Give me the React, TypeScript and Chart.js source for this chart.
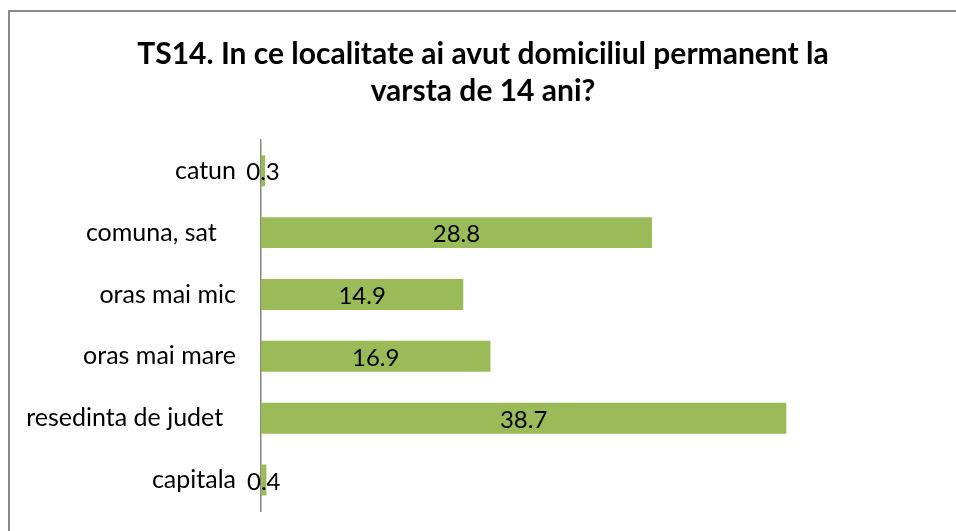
import React, { useEffect, useRef } from "react";
import { Chart, registerables } from "chart.js";

Chart.register(...registerables);

const categories = ["catun", "comuna, sat   ", "oras mai mic", "oras mai mare", "resedinta de judet  ", "capitala"];
const values = [0.3, 28.8, 14.9, 16.9, 38.7, 0.4];
const titleLines = ["TS14. In ce localitate ai avut domiciliul permanent la", "varsta de 14 ani?"];

const FONT = "Lato, 'Open Sans', sans-serif";

const valueLabels = {
  id: "valueLabels",
  afterDatasetsDraw(chart: any) {
    const ctx = chart.ctx;
    const meta = chart.getDatasetMeta(0);
    ctx.save();
    ctx.font = `24px ${FONT}`;
    ctx.fillStyle = "#000";
    ctx.textAlign = "center";
    ctx.textBaseline = "middle";
    meta.data.forEach((bar: any, i: number) => {
      const cx = (bar.x + bar.base) / 2;
      ctx.fillText(String(values[i]), cx, bar.y + 2);
    });
    ctx.restore();
  },
};

export default function App() {
  const ref = useRef<HTMLCanvasElement | null>(null);
  useEffect(() => {
    if (!ref.current) return;
    const chart = new Chart(ref.current, {
      type: "bar",
      data: {
        labels: categories,
        datasets: [
          {
            data: values,
            backgroundColor: "#9BBB59",
            borderWidth: 0,
            barPercentage: 0.5,
            categoryPercentage: 1,
          },
        ],
      },
      options: {
        indexAxis: "y",
        animation: false,
        responsive: true,
        maintainAspectRatio: false,
        layout: { padding: { left: 0, right: 0, top: 0, bottom: 20 } },
        plugins: {
          legend: { display: false },
          tooltip: { enabled: false },
          title: {
            display: true,
            text: titleLines,
            color: "#000",
            font: { family: FONT, size: 30, weight: "bold", lineHeight: 1.23 },
            padding: { top: 24, bottom: 30 },
          },
        },
        scales: {
          x: { display: false, min: 0, max: 51.2 },
          y: {
            grid: { display: false },
            border: { display: true, color: "#868686", width: 1.5 },
            ticks: { color: "#000", font: { family: FONT, size: 25 }, padding: 17 },
            afterFit: (scale: any) => {
              scale.width = 251;
              scale.paddingTop = 0;
              scale.paddingBottom = 0;
            },
          },
        },
      },
      plugins: [valueLabels],
    });
    return () => chart.destroy();
  }, []);
  return (
    <div
      style={{
        position: "absolute",
        left: 8,
        top: 10,
        width: 946,
        height: 519,
        borderLeft: "2px solid #8a8a8a",
        borderTop: "2px solid #8a8a8a",
        background: "#fff",
      }}
    >
      <canvas ref={ref} />
    </div>
  );
}
